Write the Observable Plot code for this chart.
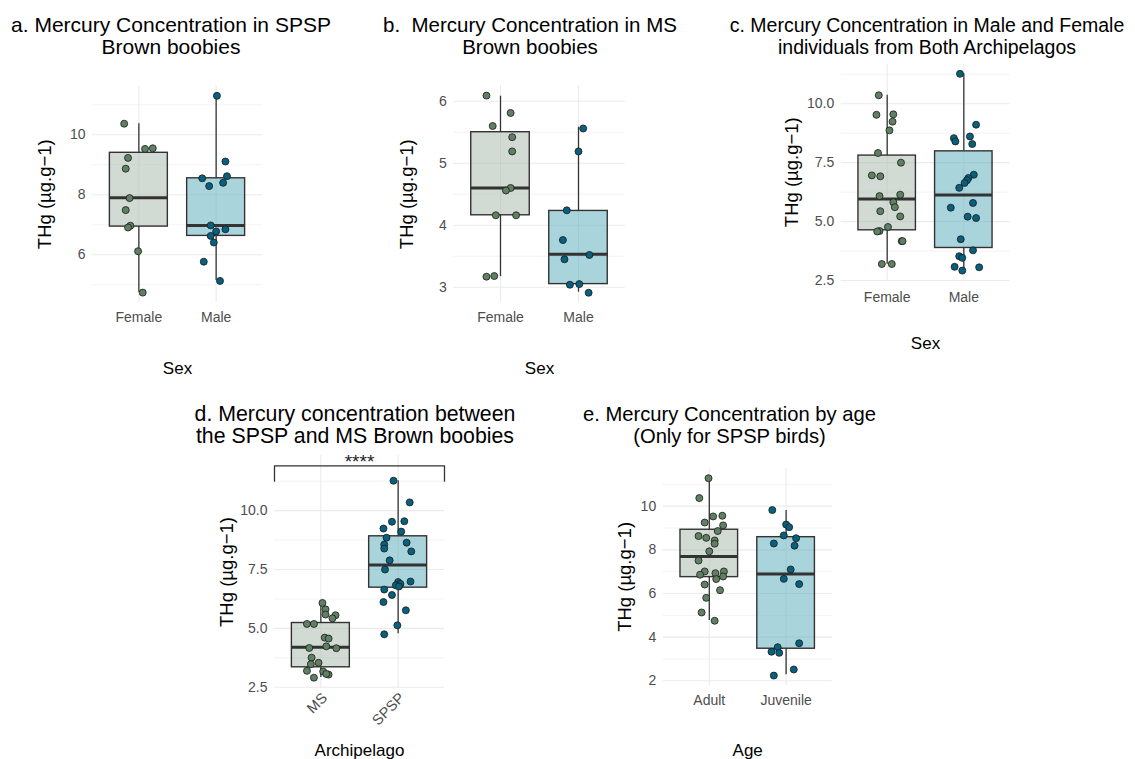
<!DOCTYPE html>
<html><head><meta charset="utf-8">
<script src="https://cdn.jsdelivr.net/npm/d3@7"></script>
<script src="https://cdn.jsdelivr.net/npm/@observablehq/plot@0.6"></script>
<style>
body{margin:0;background:#fff;}
#root{position:relative;width:1135px;height:759px;overflow:hidden;font-family:"Liberation Sans",Arial,sans-serif;}
.title{position:absolute;width:560px;text-align:center;line-height:22px;color:#000;white-space:pre;}
.panel{position:absolute;}
</style></head><body><div id="root"></div>
<script>
// ---------- DATA ----------
const yLabel = "THg (µg.g−1)";
const boxFill = ["#a4b6a8", "#55aab9"];
const dotFill = ["#5f8063", "#07607d"];

// Panel a: SPSP by sex
const aCats = ["Female", "Male"];
const aStats = [[4.75, 6.94, 7.90, 9.40, 10.37], [5.14, 6.63, 6.98, 8.55, 11.30]]; // lo,q1,med,q3,hi
const aVals = [[10.37, 9.53, 9.55, 9.23, 8.87, 7.89, 7.49, 6.97, 6.91, 6.12, 4.74],
               [11.30, 9.11, 8.55, 8.62, 8.40, 8.29, 6.98, 6.85, 6.78, 6.63, 6.41, 5.77, 5.13]];
const aJit = [[-0.19, 0.08, 0.18, -0.14, -0.17, -0.12, -0.17, -0.11, -0.14, -0.01, 0.05],
              [0.01, 0.12, -0.18, 0.14, 0.09, -0.09, -0.07, 0.12, 0.00, -0.07, -0.03, -0.16, 0.05]];
const aTicks = [6, 8, 10], aMinor = [5, 7, 9, 11];

// Panel b: MS by sex
const bCats = ["Female", "Male"];
const bStats = [[3.17, 4.16, 4.60, 5.50, 6.08], [2.92, 3.05, 3.53, 4.23, 5.58]];
const bVals = [[6.09, 5.81, 5.60, 5.42, 5.19, 4.60, 4.56, 4.16, 4.16, 3.17, 3.18],
               [5.56, 5.19, 4.24, 3.76, 3.45, 3.52, 3.04, 3.05, 2.91]];
const bJit = [[-0.18, 0.13, -0.10, 0.15, 0.15, 0.13, 0.07, -0.06, 0.20, -0.18, -0.08],
              [0.06, 0.00, -0.15, -0.20, -0.18, 0.14, -0.11, 0.01, 0.13]];
const bTicks = [3, 4, 5, 6], bMinor = [3.5, 4.5, 5.5];

// Panel c: both archipelagos by sex
const cCats = ["Female", "Male"];
const cStats = [[3.19, 4.63, 5.96, 7.80, 10.36], [2.90, 3.88, 6.13, 7.98, 11.27]];
const cVals = [[10.36, 9.53, 9.55, 9.24, 8.87, 7.91, 7.50, 6.96, 6.92, 6.08, 6.14, 5.82, 5.61, 5.44, 5.22, 4.77, 4.60, 4.58, 4.17, 4.17, 3.20, 3.20],
               [11.27, 9.11, 8.54, 8.40, 8.61, 8.29, 6.99, 6.85, 6.75, 6.64, 6.43, 5.59, 5.79, 5.21, 5.15, 4.25, 3.78, 3.53, 3.46, 3.08, 3.06, 2.92]];
const cJit = [[-0.11, -0.14, 0.08, 0.07, 0.03, -0.12, 0.18, -0.20, -0.09, -0.10, 0.17, 0.08, 0.10, -0.09, 0.17, 0.01, -0.10, -0.13, 0.19, 0.20, -0.07, 0.06],
              [-0.05, 0.16, -0.13, -0.11, 0.08, 0.11, 0.13, 0.06, 0.04, 0.01, -0.06, -0.17, 0.12, 0.05, 0.16, -0.04, 0.12, -0.06, -0.02, -0.12, 0.20, -0.02]];
const cTicks = [2.5, 5, 7.5, 10], cMinor = [3.75, 6.25, 8.75, 11.25];

// Panel d: by archipelago
const dCats = ["MS", "SPSP"];
const dStats = [[2.92, 3.35, 4.20, 5.23, 6.11], [4.77, 6.73, 7.69, 8.91, 11.27]];
const dVals = [[6.08, 5.81, 5.59, 5.56, 5.43, 5.19, 5.19, 4.61, 4.57, 4.24, 4.17, 4.16, 3.76, 3.54, 3.48, 3.20, 3.17, 3.04, 3.07, 2.91],
               [11.27, 10.35, 9.53, 9.55, 9.24, 9.11, 8.85, 8.64, 8.56, 8.39, 8.27, 7.89, 7.50, 6.97, 6.99, 6.89, 6.83, 6.65, 6.42, 6.12, 5.77, 5.13, 4.75, 6.78]];
const dJit = [[0.02, 0.06, 0.06, 0.19, 0.15, -0.18, -0.09, 0.05, 0.10, 0.07, -0.15, 0.20, -0.12, -0.03, -0.13, -0.18, 0.03, 0.10, 0.07, -0.09],
              [-0.06, 0.15, -0.08, 0.08, -0.19, 0.04, -0.15, 0.11, -0.18, -0.18, 0.17, -0.11, -0.17, 0.00, 0.16, 0.03, -0.03, -0.18, -0.08, -0.19, 0.10, -0.01, -0.18, 0.01]];
const dTicks = [2.5, 5, 7.5, 10], dMinor = [3.75, 6.25, 8.75, 11.25];
const dSig = {xmin: 0.4, xmax: 2.6, top: 11.90, tip: 11.25, labelY: 12.08, label: "****"};

// Panel e: by age (SPSP)
const eCats = ["Adult", "Juvenile"];
const eStats = [[4.76, 6.75, 7.70, 8.92, 11.28], [2.28, 3.47, 6.89, 8.58, 9.80]];
const eVals = [[11.28, 10.37, 9.53, 9.56, 9.25, 9.12, 8.86, 8.63, 8.55, 8.43, 8.28, 7.93, 7.51, 7.01, 7.01, 6.93, 6.86, 6.78, 6.66, 6.41, 6.15, 5.80, 5.13, 4.75],
               [9.82, 9.16, 9.04, 8.29, 8.66, 8.53, 8.19, 7.10, 6.67, 6.43, 3.72, 3.54, 3.33, 3.28, 2.52, 2.24]];
const eJit = [[-0.01, -0.13, 0.05, 0.17, -0.06, 0.18, 0.11, -0.14, -0.04, 0.07, 0.07, 0.00, -0.14, -0.06, 0.19, 0.08, -0.12, 0.18, 0.09, -0.06, 0.14, -0.04, -0.10, 0.07],
              [-0.18, 0.00, 0.04, -0.16, -0.03, 0.13, 0.11, 0.06, -0.03, 0.17, 0.17, -0.11, -0.19, -0.09, 0.10, -0.16]];
const eTicks = [2, 4, 6, 8, 10], eMinor = [3, 5, 7, 9, 11];

// ---------- DRAW ----------
const root = document.getElementById("root");
const FONT = "Liberation Sans, Arial, sans-serif";
const HW = 0.375; // half box width (category units)

function panel(cfg) {
  const boxes = cfg.stats.map((s, k) => ({i: k + 1, lo: s[0], q1: s[1], med: s[2], q3: s[3], hi: s[4]}));
  const pts = [];
  cfg.vals.forEach((arr, k) => arr.forEach((v, n) => pts.push({i: k + 1, v, j: cfg.jit[k][n]})));
  const [fx0, fx1, fy0, fy1] = cfg.frame;
  const marks = [
    Plot.ruleY(cfg.minor, {stroke: "#EBEBEB", strokeWidth: 0.6}),
    Plot.ruleY(cfg.ticks, {stroke: "#EBEBEB", strokeWidth: 1.1}),
    Plot.ruleX([1, 2], {stroke: "#EBEBEB", strokeWidth: 1.1}),
    Plot.ruleX(boxes, {x: "i", y1: "q3", y2: "hi", stroke: "#333333", strokeWidth: 1.3}),
    Plot.ruleX(boxes, {x: "i", y1: "lo", y2: "q1", stroke: "#333333", strokeWidth: 1.3}),
    Plot.rect(boxes, {x1: d => d.i - HW, x2: d => d.i + HW, y1: "q1", y2: "q3",
      fill: d => boxFill[d.i - 1], fillOpacity: 0.5, stroke: "#333333", strokeWidth: 1.4}),
    Plot.ruleY(boxes, {y: "med", x1: d => d.i - HW, x2: d => d.i + HW, stroke: "#333333", strokeWidth: 3}),
    Plot.dot(pts, {x: d => d.i + d.j, y: "v", r: 3.5, fill: d => dotFill[d.i - 1], stroke: "#1a1a1a", strokeWidth: 0.8}),
    Plot.axisY({ticks: cfg.ticks, tickFormat: cfg.fmt, tickSize: 0, tickPadding: 7, fontSize: 14, color: "#4D4D4D", label: null}),
    Plot.text([yLabel], {text: d => d, frameAnchor: "left", textAnchor: "middle", lineAnchor: "middle",
      dx: cfg.yLabelX - fx0, rotate: -90, fontSize: 18.5, fill: "#000"}),
    Plot.text([cfg.xLabel], {text: d => d, frameAnchor: "bottom", textAnchor: "middle", lineAnchor: "middle",
      dy: cfg.xTitleY - fy1, fontSize: 17, fill: "#000"})
  ];
  if (cfg.rotateX) {
    marks.push(Plot.text(cfg.cats, {x: (d, k) => k + 1, text: d => d, frameAnchor: "bottom", rotate: -45,
      textAnchor: "end", lineAnchor: "middle", dx: 4, dy: 7, fontSize: 14.5, fill: "#4D4D4D"}));
  } else {
    marks.push(Plot.axisX({ticks: [1, 2], tickFormat: k => cfg.cats[k - 1], tickSize: 0, tickPadding: cfg.xPad,
      fontSize: 14, color: "#4D4D4D", label: null}));
  }
  if (cfg.sig) {
    const s = cfg.sig;
    const br = [{x: s.xmin, y: s.tip}, {x: s.xmin, y: s.top}, {x: s.xmax, y: s.top}, {x: s.xmax, y: s.tip}];
    marks.push(Plot.line(br, {x: "x", y: "y", stroke: "#333333", strokeWidth: 1.3}));
    marks.push(Plot.text([s], {x: d => (d.xmin + d.xmax) / 2, y: "labelY", text: "label", fontSize: 19, fill: "#222"}));
  }
  const chart = Plot.plot({
    width: cfg.W, height: cfg.H,
    marginLeft: fx0 - cfg.left, marginRight: cfg.left + cfg.W - fx1,
    marginTop: fy0 - cfg.top, marginBottom: cfg.top + cfg.H - fy1,
    x: {domain: [0.4, 2.6], axis: null},
    y: {domain: cfg.yDomain, axis: null},
    color: {type: "identity"},
    style: {fontFamily: FONT, overflow: "visible", background: "transparent"},
    marks
  });
  const wrap = document.createElement("div");
  wrap.className = "panel";
  wrap.style.left = cfg.left + "px";
  wrap.style.top = cfg.top + "px";
  wrap.appendChild(chart);
  root.appendChild(wrap);
  const t = document.createElement("div");
  t.className = "title";
  t.textContent = cfg.title;
  t.style.fontSize = cfg.titleSize + "px";
  t.style.left = (cfg.titleX - 280) + "px";
  t.style.top = cfg.titleTop + "px";
  root.appendChild(t);
}

const f1 = d3.format(".1f");
const f0 = d => String(d);

panel({left: 0, top: 60, W: 300, H: 330, frame: [92, 262, 85.4, 302], yDomain: [4.41, 11.63],
  ticks: aTicks, minor: aMinor, fmt: f0, cats: aCats, stats: aStats, vals: aVals, jit: aJit,
  xLabel: "Sex", yLabelX: 45, xTitleY: 368, xPad: 9.5,
  title: "a. Mercury Concentration in SPSP\nBrown boobies", titleX: 171, titleTop: 13.7, titleSize: 21});

panel({left: 380, top: 60, W: 270, H: 330, frame: [453.2, 624.8, 85.2, 302.2], yDomain: [2.75, 6.25],
  ticks: bTicks, minor: bMinor, fmt: f0, cats: bCats, stats: bStats, vals: bVals, jit: bJit,
  xLabel: "Sex", yLabelX: 406.7, xTitleY: 368, xPad: 9,
  title: "b.  Mercury Concentration in MS\nBrown boobies", titleX: 530, titleTop: 13.7, titleSize: 20.5});

panel({left: 760, top: 40, W: 375, H: 330, frame: [840.7, 1009.3, 63.4, 280], yDomain: [2.5, 11.69],
  ticks: cTicks, minor: cMinor, fmt: f1, cats: cCats, stats: cStats, vals: cVals, jit: cJit,
  xLabel: "Sex", yLabelX: 791.7, xTitleY: 343, xPad: 12,
  title: "c. Mercury Concentration in Male and Female\nindividuals from Both Archipelagos", titleX: 927, titleTop: 13.7, titleSize: 19.5});

panel({left: 180, top: 440, W: 300, H: 319, frame: [274, 444, 455, 688], yDomain: [2.45, 12.34],
  ticks: dTicks, minor: dMinor, fmt: f1, cats: dCats, stats: dStats, vals: dVals, jit: dJit,
  xLabel: "Archipelago", yLabelX: 226.7, xTitleY: 750, rotateX: true, sig: dSig,
  title: "d. Mercury concentration between\nthe SPSP and MS Brown boobies", titleX: 355, titleTop: 402.7, titleSize: 21.3});

panel({left: 580, top: 440, W: 300, H: 319, frame: [662.7, 831.7, 467.9, 684.9], yDomain: [1.79, 11.73],
  ticks: eTicks, minor: eMinor, fmt: f0, cats: eCats, stats: eStats, vals: eVals, jit: eJit,
  xLabel: "Age", yLabelX: 625, xTitleY: 750, xPad: 9.5,
  title: "e. Mercury Concentration by age\n(Only for SPSP birds)", titleX: 729.5, titleTop: 402.7, titleSize: 20.2});
</script></body></html>
